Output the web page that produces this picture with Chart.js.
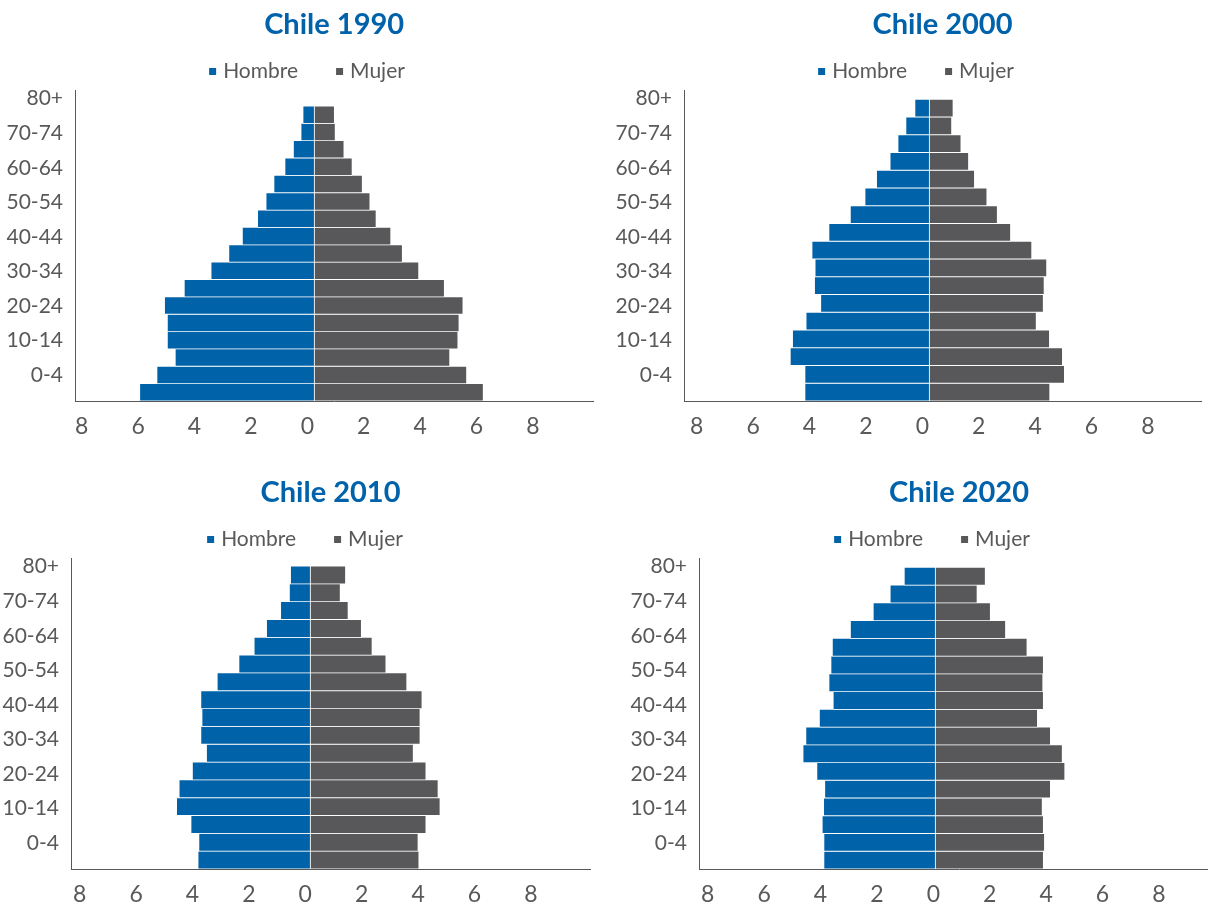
<!DOCTYPE html>
<html>
<head>
<meta charset="utf-8">
<script src="https://cdn.jsdelivr.net/npm/chart.js@4.4.1/dist/chart.umd.min.js"></script>
<style>
  html, body { margin: 0; padding: 0; background: #ffffff; width: 1208px; height: 905px; overflow: hidden; }
  canvas { position: absolute; }
</style>
</head>
<body>
<canvas id="c1990" width="620" height="450" style="left:0px;top:0px"></canvas>
<canvas id="c2000" width="620" height="450" style="left:604px;top:0px"></canvas>
<canvas id="c2010" width="620" height="450" style="left:0px;top:468px"></canvas>
<canvas id="c2020" width="620" height="450" style="left:625px;top:468px"></canvas>
<script>
// ---- data (bars listed bottom to top) ----
const ageGroups = ['0-4','5-9','10-14','15-19','20-24','25-29','30-34','35-39','40-44',
                   '45-49','50-54','55-59','60-64','65-69','70-74','75-79','80+'];
const xTickValues = [-8, -6, -4, -2, 0, 2, 4, 6, 8];
const seriesNames = ['Hombre', 'Mujer'];

const hombre1990 = [6.19,5.58,4.93,5.21,5.21,5.31,4.61,3.66,3.03,2.55,2.01,1.71,1.43,1.04,0.74,0.47,0.40];
const mujer1990  = [5.99,5.40,4.80,5.09,5.13,5.27,4.61,3.70,3.12,2.71,2.19,1.97,1.70,1.34,1.05,0.74,0.71];

const hombre2000 = [4.41,4.41,4.93,4.85,4.37,3.85,4.07,4.05,4.16,3.56,2.80,2.28,1.87,1.39,1.11,0.83,0.51];
const mujer2000  = [4.27,4.79,4.72,4.26,3.79,4.04,4.07,4.16,3.63,2.88,2.41,2.04,1.60,1.39,1.12,0.79,0.84];

const hombre2010 = [3.98,3.95,4.23,4.74,4.65,4.18,3.68,3.88,3.84,3.88,3.30,2.53,1.99,1.55,1.05,0.74,0.70];
const mujer2010  = [3.85,3.82,4.10,4.60,4.53,4.10,3.65,3.89,3.89,3.96,3.42,2.68,2.19,1.81,1.34,1.06,1.25];

const hombre2020 = [3.95,3.95,4.01,3.96,3.92,4.20,4.69,4.59,4.11,3.62,3.77,3.70,3.65,3.01,2.20,1.60,1.10];
const mujer2020  = [3.83,3.87,3.83,3.79,4.08,4.59,4.50,4.08,3.62,3.83,3.81,3.83,3.25,2.49,1.95,1.48,1.77];

// ---- styles / geometry ----
const BLUE = '#0063A9';
const GREY = '#58585A';
const TITLE_BLUE = '#0062AA';
const TEXT = '#595959';
const AXIS = '#595959';
const FONT = 'Lato, "Open Sans", sans-serif';

const geom = {
  c1990: { canvasLeft: 0,   legendCenter: 307, padR: 26.7, yW: 75, xMin: -8.486, xMax: 9.894, labelOffset: -7, barTop: 18.42 },
  c2000: { canvasLeft: 604, legendCenter: 916, padR: 23,   yW: 80, xMin: -8.70,  xMax: 9.635, labelOffset: -7, barTop: 18.02 },
  c2010: { canvasLeft: 0,   legendCenter: 305, padR: 30,   yW: 71, xMin: -8.486, xMax: 9.92,  labelOffset: -5, barTop: 17.95 },
  c2020: { canvasLeft: 625, legendCenter: 932, padR: 26,   yW: 74, xMin: -8.38,  xMax: 10.06, labelOffset: -2, barTop: 18.03 }
};

const LEGEND_PAD = 41.5;

function makeChart(id, year, hombre, mujer) {
  const g = geom[id];
  const yLabels = ageGroups.slice().reverse().concat(['']);
  const border = { top: 0.75, bottom: 0.75, left: 0.7, right: 0.7 };
  const legendShift = {
    id: 'legendShift',
    afterLayout(chart) {
      const L = chart.legend;
      if (!L) return;
      const visualCenter = (L.left + L.right) / 2 - 1.75;
      const dx = (g.legendCenter - g.canvasLeft) - visualCenter;
      L.left += dx;
      L.right += dx;
    }
  };
  new Chart(document.getElementById(id), {
    type: 'bar',
    data: {
      datasets: [
        {
          label: seriesNames[0],
          data: hombre.map((v, i) => ({ x: -v, y: i + 1 })),
          backgroundColor: BLUE, borderColor: '#ffffff', borderWidth: border, borderSkipped: false,
          categoryPercentage: 1, barPercentage: 1, yAxisID: 'yb', xAxisID: 'x'
        },
        {
          label: seriesNames[1],
          data: mujer.map((v, i) => ({ x: v, y: i + 1 })),
          backgroundColor: GREY, borderColor: '#ffffff', borderWidth: border, borderSkipped: false,
          categoryPercentage: 1, barPercentage: 1, yAxisID: 'yb', xAxisID: 'x'
        }
      ]
    },
    plugins: [legendShift],
    options: {
      indexAxis: 'y',
      responsive: false,
      animation: false,
      devicePixelRatio: 1,
      events: [],
      layout: { padding: { left: 0, right: g.padR, top: 0, bottom: 0 } },
      plugins: {
        title: {
          display: true, text: 'Chile ' + year, fullSize: false, color: TITLE_BLUE,
          font: { family: FONT, weight: 'bold', size: 29, lineHeight: 0.2 },
          padding: { top: 22.1, bottom: -8.4 }
        },
        legend: {
          display: true, position: 'top', maxHeight: 70.5,
          labels: {
            usePointStyle: true, pointStyle: 'rect', boxWidth: 0.01, boxHeight: 7, padding: LEGEND_PAD,
            color: TEXT, font: { family: FONT, size: 21 },
            generateLabels: (chart) => Chart.defaults.plugins.legend.labels.generateLabels(chart)
              .map(l => Object.assign(l, { lineWidth: 0 }))
          }
        },
        tooltip: { enabled: false }
      },
      scales: {
        x: {
          type: 'linear', min: g.xMin, max: g.xMax, stacked: true,
          grid: { display: false, drawTicks: false },
          border: { display: true, color: AXIS, width: 1 },
          afterBuildTicks: (s) => { s.ticks = xTickValues.map(v => ({ value: v })); },
          afterFit: (s) => { s.height = 49; },
          ticks: {
            autoSkip: false, maxRotation: 0, minRotation: 0, padding: 12, labelOffset: g.labelOffset,
            color: TEXT, font: { family: FONT, size: 23 },
            callback: (v) => String(Math.abs(v))
          }
        },
        y: {
          type: 'category', labels: yLabels, position: 'left', offset: true,
          grid: { display: false, drawTicks: false, offset: true },
          border: { display: true, color: AXIS, width: 1 },
          afterFit: (s) => { s.width = g.yW; },
          ticks: {
            autoSkip: false, padding: 12, color: TEXT, font: { family: FONT, size: 21 },
            callback: function (v, i) { return i % 2 === 0 ? this.getLabelForValue(v) : ''; }
          }
        },
        yb: {
          type: 'linear', axis: 'y', position: 'left', display: false,
          min: 0.5, max: g.barTop, stacked: true, offset: false,
          grid: { offset: false },
          afterBuildTicks: (s) => { s.ticks = ageGroups.map((a, i) => ({ value: i + 1 })); }
        }
      }
    }
  });
}

makeChart('c1990', '1990', hombre1990, mujer1990);
makeChart('c2000', '2000', hombre2000, mujer2000);
makeChart('c2010', '2010', hombre2010, mujer2010);
makeChart('c2020', '2020', hombre2020, mujer2020);
</script>
</body>
</html>
